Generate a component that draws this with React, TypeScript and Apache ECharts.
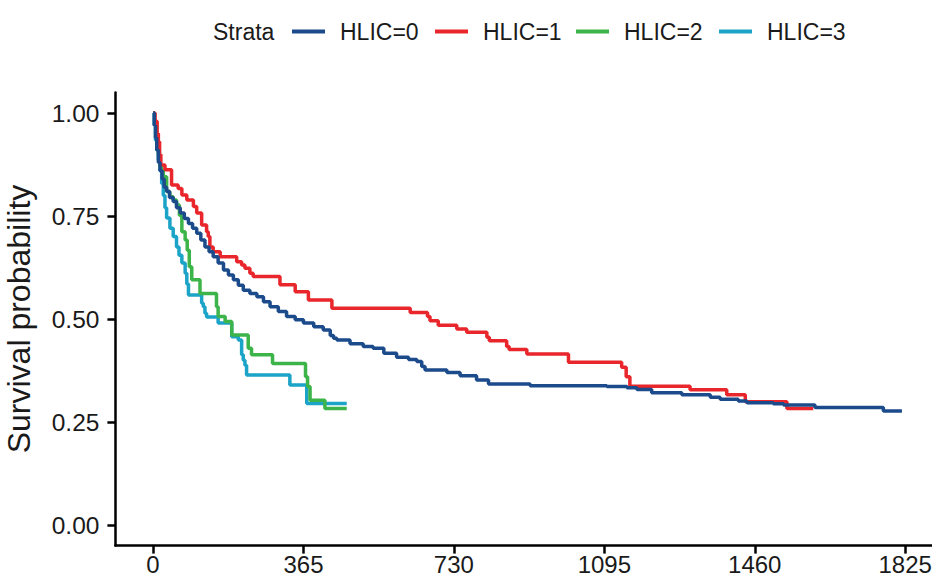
import React, { useEffect, useRef } from "react";
import * as echarts from "echarts";

const strataNames = ["HLIC=0", "HLIC=1", "HLIC=2", "HLIC=3"];
const strataColors = ["#1C4B8B", "#E8262B", "#3DB449", "#1CA3C8"];
const xTicks = [0, 365, 730, 1095, 1460, 1825];
const yTicks = [0, 0.25, 0.5, 0.75, 1];

// [day, survival probability after the drop]
const hlic0: [number, number][] = [
  [0, 1.0], [3, 0.97], [6, 0.94], [9, 0.91], [13, 0.88], [17, 0.86], [22, 0.84], [27, 0.82],
  [33, 0.81], [40, 0.795], [49, 0.785], [57, 0.77], [66, 0.757], [76, 0.744], [86, 0.732],
  [96, 0.72], [106, 0.708], [116, 0.692], [126, 0.675], [136, 0.663], [146, 0.651], [158, 0.636],
  [171, 0.619], [183, 0.607], [195, 0.595], [207, 0.582], [219, 0.57], [235, 0.562], [252, 0.554],
  [268, 0.542], [284, 0.53], [304, 0.518], [324, 0.506], [345, 0.498], [365, 0.49], [390, 0.481],
  [413, 0.473], [430, 0.46], [438, 0.453], [446, 0.449], [478, 0.44], [510, 0.433], [534, 0.429],
  [560, 0.417], [591, 0.407], [620, 0.402], [640, 0.397], [652, 0.385], [660, 0.376], [713, 0.37],
  [745, 0.362], [785, 0.352], [814, 0.342], [915, 0.338], [1101, 0.336], [1150, 0.333],
  [1174, 0.329], [1210, 0.321], [1283, 0.316], [1352, 0.31], [1376, 0.305], [1420, 0.301],
  [1441, 0.297], [1505, 0.294], [1530, 0.291], [1606, 0.285], [1772, 0.277], [1817, 0.277],
];

const hlic1: [number, number][] = [
  [0, 1.0], [5, 0.98], [10, 0.95], [13, 0.93], [16, 0.9], [19, 0.874], [29, 0.862], [45, 0.825],
  [61, 0.817], [70, 0.801], [82, 0.789], [98, 0.773], [106, 0.757], [118, 0.728], [130, 0.712],
  [134, 0.7], [138, 0.675], [146, 0.663], [163, 0.651], [203, 0.639], [215, 0.631], [223, 0.623],
  [235, 0.611], [243, 0.603], [308, 0.583], [345, 0.566], [377, 0.546], [434, 0.526],
  [624, 0.516], [666, 0.506], [672, 0.496], [692, 0.485], [737, 0.476], [761, 0.468],
  [810, 0.456], [816, 0.447], [858, 0.433], [864, 0.426], [907, 0.415], [1008, 0.395],
  [1137, 0.383], [1148, 0.36], [1157, 0.337], [1303, 0.328], [1392, 0.316], [1437, 0.299],
  [1538, 0.283], [1602, 0.283],
];

const hlic2: [number, number][] = [
  [0, 1.0], [4, 0.97], [9, 0.93], [13, 0.9], [17, 0.87], [21, 0.86], [25, 0.845], [33, 0.809],
  [41, 0.797], [49, 0.789], [57, 0.777], [64, 0.752], [70, 0.712], [78, 0.692], [83, 0.667],
  [88, 0.627], [94, 0.595], [114, 0.562], [154, 0.53], [158, 0.506], [175, 0.494], [191, 0.461],
  [231, 0.429], [239, 0.413], [290, 0.392], [370, 0.36], [375, 0.336], [381, 0.303],
  [417, 0.283], [470, 0.283],
];

const hlic3: [number, number][] = [
  [0, 1.0], [3, 0.97], [6, 0.934], [9, 0.91], [13, 0.886], [17, 0.86], [21, 0.829], [25, 0.8],
  [29, 0.77], [33, 0.745], [41, 0.72], [49, 0.7], [57, 0.675], [63, 0.655], [70, 0.636],
  [78, 0.611], [82, 0.585], [86, 0.558], [118, 0.538], [122, 0.53], [126, 0.514], [130, 0.505],
  [158, 0.49], [191, 0.457], [207, 0.449], [215, 0.413], [219, 0.4], [223, 0.388], [227, 0.364],
  [332, 0.34], [373, 0.295], [470, 0.295],
];

const seriesData = [hlic0, hlic1, hlic2, hlic3];
const FONT = "'Liberation Sans', Arial, Helvetica, sans-serif";
const legendLefts = [292, 435, 576, 719];

export default function App() {
  const ref = useRef<HTMLDivElement>(null);
  useEffect(() => {
    if (!ref.current) return;
    const chart = echarts.init(ref.current, null, { renderer: "svg" });
    const option: any = {
      animation: false,
      backgroundColor: "#ffffff",
      title: {
        text: "Strata",
        left: 213,
        top: 20,
        padding: 0,
        textStyle: { fontFamily: FONT, fontSize: 23, fontWeight: "normal", color: "#1a1a1a" },
      },
      legend: strataNames.map((n, i) => ({
        data: [n],
        left: legendLefts[i],
        top: 20,
        padding: 0,
        icon: "rect",
        itemWidth: 33,
        itemHeight: 4,
        selectedMode: false,
        textStyle: {
          fontFamily: FONT,
          fontSize: 23,
          color: "#1a1a1a",
          padding: [0, 0, 0, 10],
        },
      })),
      grid: {
        left: 115.4,
        top: 92.4,
        right: 0,
        height: 453.2,
        containLabel: false,
        outerBoundsMode: "none",
      },
      xAxis: {
        type: "value",
        min: -91.25,
        max: 1890,
        splitLine: { show: false },
        axisLine: { show: true, onZero: false, lineStyle: { color: "#000", width: 2.5 } },
        axisTick: { show: true, length: 8, customValues: xTicks, lineStyle: { color: "#000", width: 2.5 } },
        axisLabel: {
          customValues: xTicks,
          margin: 10,
          lineHeight: 18,
          fontFamily: FONT,
          fontSize: 24,
          color: "#1a1a1a",
          formatter: (v: number) => String(v),
        },
      },
      yAxis: {
        type: "value",
        min: -0.05,
        max: 1.05,
        splitLine: { show: false },
        name: "Survival probability",
        nameLocation: "middle",
        nameGap: 80,
        nameRotate: 90,
        nameTextStyle: { fontFamily: FONT, fontSize: 32, color: "#1a1a1a" },
        axisLine: { show: true, onZero: false, lineStyle: { color: "#000", width: 2.5 } },
        axisTick: { show: true, length: 8, customValues: yTicks, lineStyle: { color: "#000", width: 2.5 } },
        axisLabel: {
          customValues: yTicks,
          margin: 16,
          fontFamily: FONT,
          fontSize: 24.5,
          color: "#1a1a1a",
          formatter: (v: number) => v.toFixed(2),
        },
      },
      series: seriesData.map((d, i) => ({
        name: strataNames[i],
        type: "line",
        step: "end",
        data: d,
        showSymbol: false,
        symbol: "none",
        lineStyle: { color: strataColors[i], width: 3.5 },
        itemStyle: { color: strataColors[i] },
        z: 2 + (3 - i),
      })),
    };
    chart.setOption(option);
    return () => chart.dispose();
  }, []);
  return (
    <div
      ref={ref}
      style={{ position: "fixed", left: 0, top: 0, width: 932, height: 579, background: "#fff" }}
    />
  );
}
